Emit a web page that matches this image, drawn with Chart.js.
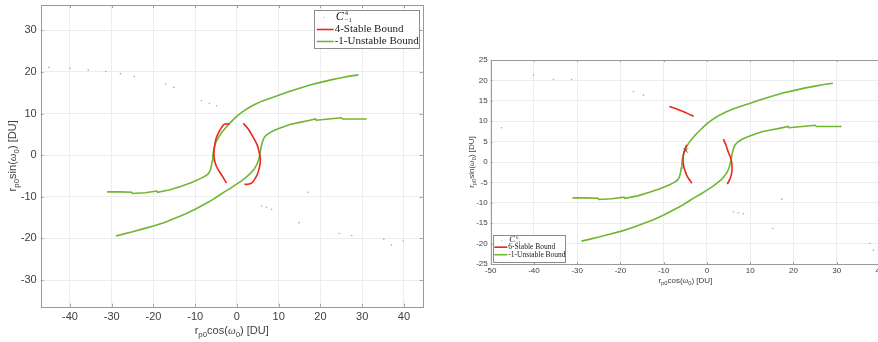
<!DOCTYPE html>
<html>
<head>
<meta charset="utf-8">
<script src="https://cdn.jsdelivr.net/npm/chart.js@4.4.1/dist/chart.umd.min.js"></script>
<style>
  body { margin: 0; background: #fff; overflow: hidden; width: 878px; height: 342px; position: relative; }
  #left { position: absolute; left: 0; top: 0; }
  #right { position: absolute; left: 440px; top: 0; }
</style>
</head>
<body>
<canvas id="left" width="440" height="342"></canvas>
<canvas id="right" width="460" height="342"></canvas>
<script>
// tick labels
const xTicksL = [-40, -30, -20, -10, 0, 10, 20, 30, 40];
const yTicksL = [-30, -20, -10, 0, 10, 20, 30];
const xTicksR = [-50, -40, -30, -20, -10, 0, 10, 20, 30, 40];
const yTicksR = [-25, -20, -15, -10, -5, 0, 5, 10, 15, 20, 25];

// -1-Unstable Bound (same in both panels)
const unstableUpper = [[-31.1,-8.8],[-28,-8.8],[-25.2,-8.9],[-25,-9.2],[-22,-9],[-19.2,-8.6],[-19,-8.9],[-16,-8.3],
  [-13.5,-7.5],[-11,-6.6],[-8.5,-5.5],[-7.6,-5],[-7,-4.6],[-6.6,-4.1],[-6.3,-3.4],[-6.1,-2.5],[-5.95,-1.5],
  [-5.8,-0.3],[-5.65,0.8],[-5.45,1.8],[-5.2,2.7],[-4.8,3.6],[-4.3,4.5],[-3.6,5.5],[-2.8,6.5],[-1.8,7.6],
  [-0.8,8.6],[0,9.4],[1,10.2],[2,10.9],[3.1,11.6],[4.5,12.3],[6,13],[8,13.7],[10,14.4],[12.5,15.3],[15,16.1],
  [17.5,16.9],[20,17.5],[22.5,18.1],[25,18.6],[27,19],[29.1,19.3]];
const unstableLower = [[-29,-19.4],[-27,-18.9],[-25,-18.4],[-22.5,-17.7],[-20,-17],[-17.5,-16.2],[-15,-15.2],
  [-12.5,-14.2],[-10,-13],[-8,-11.9],[-6,-10.8],[-4.5,-9.8],[-3,-8.8],[-1.5,-7.9],[0,-6.9],[1.2,-6.1],[2.3,-5.2],
  [3.3,-4.3],[4.1,-3.4],[4.7,-2.4],[5.1,-1.4],[5.4,-0.3],[5.6,0.8],[5.8,2],[6.1,3.2],[6.5,4.2],[7.1,4.9],[8,5.5],
  [9,6],[10.5,6.6],[12.7,7.4],[15,7.9],[17,8.3],[18.8,8.7],[19,8.4],[22,8.7],[25,9],[25.3,8.7],[28,8.7],[31.1,8.7]];

// 4-Stable Bound (left panel)
const stable4Left = [[-2.5,-6.7],[-3.7,-4.7],[-4.9,-2.7],[-5.4,-1],[-5.5,0.5],[-5.3,2.5],[-4.9,4.3],[-4.2,5.8],
  [-3.3,7.2],[-2.8,7.5],[-1.8,7.5]];
const stable4Right = [[1.5,7.7],[2.8,6.2],[3.9,4.3],[4.8,2.6],[5.3,0.9],[5.6,-0.8],[5.5,-2.4],[5.1,-4],[4.6,-5.2],
  [3.5,-6.7],[2.3,-7],[1.8,-7]];

// 6-Stable Bound (right panel)
const stable6Top = [[-8.7,13.6],[-7,13],[-5.8,12.5],[-4.3,11.8],[-3.1,11.2]];
const stable6Left = [[-4.7,4.2],[-5.2,2.8],[-5.5,1.3],[-5.5,-0.2],[-5.3,-1.4],[-4.7,-3.2],[-4.1,-4.3],[-3.5,-5.2]];
const stable6Right = [[3.8,5.6],[4.4,4.1],[4.9,2.5],[5.4,1.2],[5.7,0],[5.8,-1.5],[5.7,-2.8],[5.3,-4.2],[4.7,-5.4]];

// scattered C points
const cloud4 = [[-45,21.1],[-40,20.9],[-35.6,20.5],[-31.4,20.1],[-27.9,19.6],[-24.6,18.9],[-17.1,17.1],[-15.1,16.3],
  [-8.5,13.1],[-6.6,12.5],[-4.9,11.9],[5.9,-12.2],[7.1,-12.5],[8.3,-13],[17.1,-8.9],[14.9,-16.2],[24.5,-18.8],
  [27.5,-19.3],[35.2,-20.2],[37,-21.6],[39.8,-20.6]];
const cloud6 = [[-47.5,8.4],[-40.1,21.3],[-35.5,20.3],[-31.3,20.2],[-17,17.2],[-14.7,16.4],[6.1,-12.2],[7.2,-12.5],
  [8.4,-12.7],[17.3,-9.1],[15.2,-16.3],[37.7,-19.9],[38.5,-21.6]];
const cross6 = [[-4.9,2.8]];

const RED = 'rgb(236,38,30)';
const GREEN = 'rgb(112,182,48)';
const TXT = '#404040';

const pts = a => a.map(([x, y]) => ({ x, y }));
const line = (label, data, color, tension) => ({ label, data: pts(data), showLine: true, borderColor: color,
  borderWidth: 1.6, pointRadius: 0, fill: false, tension });
const dots = (label, data) => ({ label, data: pts(data), showLine: false, pointRadius: 0.8,
  backgroundColor: '#a8a8a8', borderWidth: 0 });

function rich(ctx, segs, size, cx, cy) {
  const font = s => s === 's' ? (size * 0.72) + 'px "Liberation Sans"'
    : s === 'g' ? 'italic ' + size + 'px "Liberation Serif"' : size + 'px "Liberation Sans"';
  let w = 0;
  segs.forEach(([t, s]) => { ctx.font = font(s); w += ctx.measureText(t).width; });
  let x = cx - w / 2;
  ctx.textAlign = 'left';
  ctx.textBaseline = 'middle';
  segs.forEach(([t, s]) => {
    ctx.font = font(s);
    ctx.fillText(t, x, cy + (s === 's' ? size * 0.32 : 0));
    x += ctx.measureText(t).width;
  });
}

const xTitle = [['r', 'n'], ['p0', 's'], ['cos(', 'n'], ['\u03c9', 'g'], ['0', 's'], [') [DU]', 'n']];
const yTitle = [['r', 'n'], ['p0', 's'], ['sin(', 'n'], ['\u03c9', 'g'], ['0', 's'], [') [DU]', 'n']];

const matlab = {
  id: 'matlab',
  afterDraw(chart, args, o) {
    const ctx = chart.ctx, a = chart.chartArea;
    const sx = chart.scales.x, sy = chart.scales.y;
    ctx.save();
    // tick marks inside the box
    ctx.strokeStyle = '#a0a0a0';
    ctx.lineWidth = 1;
    ctx.beginPath();
    sx.ticks.forEach(t => {
      const p = Math.round(sx.getPixelForValue(t.value)) + 0.5;
      ctx.moveTo(p, a.bottom); ctx.lineTo(p, a.bottom - o.tick);
      ctx.moveTo(p, a.top); ctx.lineTo(p, a.top + o.tick);
    });
    sy.ticks.forEach(t => {
      const p = Math.round(sy.getPixelForValue(t.value)) + 0.5;
      ctx.moveTo(a.left, p); ctx.lineTo(a.left + o.tick, p);
      ctx.moveTo(a.right, p); ctx.lineTo(a.right - o.tick, p);
    });
    ctx.stroke();
    ctx.strokeStyle = '#9a9a9a';
    ctx.strokeRect(Math.round(a.left) + 0.5, Math.round(a.top) + 0.5,
      Math.round(a.right - a.left), Math.round(a.bottom - a.top));

    // legend
    const L = o.legend;
    const x0 = L.right != null ? a.right - L.right - L.w : a.left + L.left;
    const y0 = L.top != null ? a.top + L.top : a.bottom - L.bottom - L.h;
    ctx.fillStyle = '#fff';
    ctx.fillRect(x0, y0, L.w, L.h);
    ctx.strokeStyle = '#8c8c8c';
    ctx.strokeRect(Math.round(x0) + 0.5, Math.round(y0) + 0.5, Math.round(L.w), Math.round(L.h));
    ctx.textAlign = 'left';
    ctx.textBaseline = 'middle';
    L.rows.forEach(r => {
      const yy = y0 + r.y;
      if (r.dot) {
        ctx.fillStyle = '#a8a8a8';
        ctx.fillRect(x0 + L.dotX, yy, 1, 1);
        ctx.fillStyle = '#222';
        ctx.font = 'italic ' + (L.fs + 1) + 'px "Liberation Serif"';
        ctx.fillText(r.name, x0 + L.textX + 1, yy);
        const cw = ctx.measureText(r.name).width + 1;
        ctx.font = (L.fs * 0.6) + 'px "Liberation Serif"';
        ctx.fillText(r.sup, x0 + L.textX + 1 + cw, yy - L.fs * 0.35);
        ctx.fillText(r.sub, x0 + L.textX + 1 + cw, yy + L.fs * 0.3);
      } else {
        ctx.strokeStyle = r.color;
        ctx.lineWidth = 1.6;
        ctx.beginPath();
        ctx.moveTo(x0 + L.lineX0, yy); ctx.lineTo(x0 + L.lineX1, yy);
        ctx.stroke();
        ctx.fillStyle = '#222';
        ctx.font = L.fs + 'px "Liberation Serif"';
        ctx.fillText(r.name, x0 + L.textX, yy);
      }
    });

    // axis titles
    ctx.fillStyle = TXT;
    rich(ctx, xTitle, o.titleSize, (a.left + a.right) / 2, o.xTitleY);
    ctx.translate(o.yTitleX, (a.top + a.bottom) / 2);
    ctx.rotate(-Math.PI / 2);
    rich(ctx, yTitle, o.titleSize, 0, 0);
    ctx.restore();
  }
};

function makeChart(id, datasets, cfg) {
  return new Chart(document.getElementById(id), {
    type: 'scatter',
    data: { datasets },
    options: {
      responsive: false,
      animation: false,
      layout: { padding: cfg.padding },
      plugins: { legend: { display: false }, tooltip: { enabled: false }, matlab: cfg.matlab },
      scales: {
        x: {
          min: cfg.xMin, max: cfg.xMax,
          afterBuildTicks: s => { s.ticks = cfg.xTicks.map(v => ({ value: v })); },
          afterFit: s => { s.height = cfg.xH; s.paddingLeft = 0; s.paddingRight = 0; },
          grid: { color: '#ededed', drawTicks: false },
          border: { display: false },
          ticks: { color: TXT, padding: cfg.tickPadX, maxRotation: 0, autoSkip: false,
            font: { family: 'Liberation Sans', size: cfg.tickSize } }
        },
        y: {
          min: cfg.yMin, max: cfg.yMax,
          afterBuildTicks: s => { s.ticks = cfg.yTicks.map(v => ({ value: v })); },
          afterFit: s => { s.width = cfg.yW; s.paddingTop = 0; s.paddingBottom = 0; },
          grid: { color: '#ededed', drawTicks: false },
          border: { display: false },
          ticks: { color: TXT, padding: cfg.tickPadY, autoSkip: false,
            font: { family: 'Liberation Sans', size: cfg.tickSize } }
        }
      }
    },
    plugins: [matlab]
  });
}

makeChart('left', [
  dots('C', cloud4),
  line('4-Stable Bound', stable4Left, RED, 0.3),
  line('4-Stable Bound', stable4Right, RED, 0.3),
  line('-1-Unstable Bound', unstableUpper, GREEN, 0),
  line('-1-Unstable Bound', unstableLower, GREEN, 0)
], {
  xMin: -47, xMax: 44.5, yMin: -36.4, yMax: 36.1,
  xTicks: xTicksL, yTicks: yTicksL,
  padding: { top: 5, right: 17.3, left: 0, bottom: 0 },
  xH: 35.3, yW: 40.7, tickSize: 11, tickPadX: 4, tickPadY: 4,
  matlab: {
    tick: 3, titleSize: 11, xTitleY: 331, yTitleX: 13,
    legend: { right: 4, top: 5, w: 105, h: 38, fs: 11, dotX: 10, lineX0: 3, lineX1: 20, textX: 21,
      rows: [
        { dot: true, name: 'C', sup: '4', sub: '\u22121', y: 7 },
        { name: '4-Stable Bound', color: RED, y: 19.5 },
        { name: '-1-Unstable Bound', color: GREEN, y: 31.5 }
      ] }
  }
});

makeChart('right', [
  dots('C', cloud6),
  { label: 'x', data: pts(cross6), showLine: false, pointStyle: 'crossRot', pointRadius: 3,
    borderColor: '#555', borderWidth: 1 },
  line('6-Stable Bound', stable6Top, RED, 0.3),
  line('6-Stable Bound', stable6Left, RED, 0.3),
  line('6-Stable Bound', stable6Right, RED, 0.3),
  line('-1-Unstable Bound', unstableUpper, GREEN, 0),
  line('-1-Unstable Bound', unstableLower, GREEN, 0)
], {
  xMin: -50, xMax: 40, yMin: -25, yMax: 25,
  xTicks: xTicksR, yTicks: yTicksR,
  padding: { top: 60, right: 20, left: 0, bottom: 60 },
  xH: 18, yW: 50.7, tickSize: 8, tickPadX: 2, tickPadY: 3,
  matlab: {
    tick: 2, titleSize: 8, xTitleY: 281, yTitleX: 32,
    legend: { left: 2.6, bottom: 2.3, w: 72, h: 27, fs: 7.5, dotX: 8, lineX0: 1, lineX1: 14, textX: 15,
      rows: [
        { dot: true, name: 'C', sup: '6', sub: '\u22121', y: 5.5 },
        { name: '6-Stable Bound', color: RED, y: 12.5 },
        { name: '-1-Unstable Bound', color: GREEN, y: 20 }
      ] }
  }
});
</script>
</body>
</html>
